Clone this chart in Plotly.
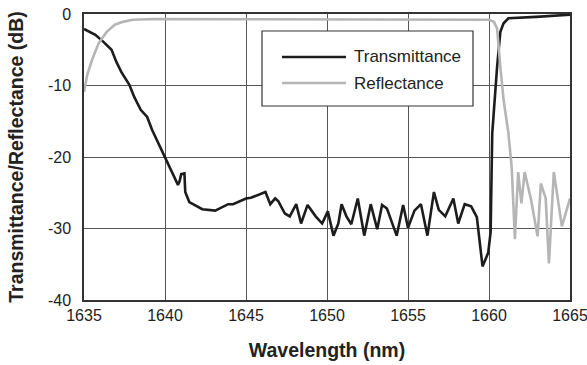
import plotly.graph_objects as go

# Transmittance (dB) vs wavelength (nm)
trans_wl = [1635.0, 1635.7, 1636.2, 1636.7, 1637.0, 1637.3, 1637.8, 1638.1, 1638.5, 1638.9,
            1639.2, 1639.6, 1640.0, 1640.4, 1640.8, 1640.9, 1641.0, 1641.2, 1641.25, 1641.5,
            1642.3, 1643.1, 1643.9, 1644.2, 1645.0, 1645.3, 1646.2, 1646.5, 1646.8, 1647.0,
            1647.4, 1647.7, 1648.1, 1648.4, 1648.8, 1649.3, 1649.7, 1650.05, 1650.4, 1650.7,
            1650.9, 1651.2, 1651.5, 1651.9, 1652.3, 1652.7, 1653.1, 1653.4, 1653.7, 1654.3,
            1654.7, 1655.0, 1655.4, 1655.8, 1656.2, 1656.6, 1656.9, 1657.3, 1657.8, 1658.1,
            1658.5, 1658.9, 1659.25, 1659.6, 1659.95, 1660.1, 1660.2, 1660.5, 1660.7, 1660.9,
            1661.2, 1662.9, 1665.0]
trans_db = [-2.1, -2.9, -3.9, -5.0, -6.7, -8.1, -9.9, -11.6, -13.4, -14.4,
            -16.2, -18.1, -20.0, -21.8, -23.9, -23.4, -22.4, -22.3, -24.9, -26.3,
            -27.3, -27.5, -26.6, -26.6, -25.8, -25.7, -24.9, -26.6, -25.8, -26.2,
            -27.9, -28.3, -26.6, -29.3, -26.7, -28.3, -29.3, -27.6, -31.0, -29.3,
            -26.6, -28.3, -29.4, -25.8, -31.0, -26.6, -30.1, -26.7, -27.2, -31.0,
            -26.7, -29.9, -27.5, -26.6, -31.0, -24.9, -27.4, -28.3, -25.8, -29.3,
            -26.6, -26.9, -28.4, -35.3, -33.4, -30.5, -16.7, -7.4, -2.5, -1.3,
            -0.6, -0.4, -0.1]

# Reflectance (dB) vs wavelength (nm)
refl_wl = [1635.0, 1635.2, 1635.5, 1635.9, 1636.4, 1636.9, 1637.4, 1638.0, 1639.3, 1645.0,
           1650.0, 1655.0, 1660.0, 1660.3, 1660.5, 1660.7, 1660.9, 1661.2, 1661.4, 1661.6,
           1661.8, 1662.0, 1662.2, 1662.6, 1663.0, 1663.2, 1663.5, 1663.7, 1664.0, 1664.5,
           1665.0]
refl_db = [-10.9, -8.5, -6.4, -4.1, -2.5, -1.5, -1.1, -0.8, -0.7, -0.7,
           -0.7, -0.7, -0.8, -1.1, -2.0, -7.4, -12.0, -16.7, -21.4, -31.5,
           -22.1, -26.5, -22.1, -26.0, -31.1, -23.7, -25.8, -34.9, -22.1, -29.7,
           -25.8]

x_ticks = [1635, 1640, 1645, 1650, 1655, 1660, 1665]
y_ticks = [0, -10, -20, -30, -40]
y_tick_text = ["0", "-10", "-20", "-30", "-40"]
series_names = ["Transmittance", "Reflectance"]
series_colors = ["#1c1c1c", "#b5b5b5"]

fig = go.Figure()
fig.add_trace(go.Scatter(x=trans_wl, y=trans_db, mode="lines", name=series_names[0],
                         line=dict(color=series_colors[0], width=2.6), showlegend=False))
fig.add_trace(go.Scatter(x=refl_wl, y=refl_db, mode="lines", name=series_names[1],
                         line=dict(color=series_colors[1], width=2.6), showlegend=False))

font_family = "Liberation Sans, Arial, sans-serif"
fig.update_layout(
    width=587, height=365,
    margin=dict(l=84, r=17, t=14, b=65),
    paper_bgcolor="white", plot_bgcolor="white",
    font=dict(family=font_family, color="#222222", size=16),
    xaxis=dict(range=[1635, 1665], tickvals=x_ticks, showgrid=True, gridcolor="#555555",
               gridwidth=1, showline=True, linecolor="#333333", linewidth=1.5, mirror=True,
               zeroline=False, ticks="", tickfont=dict(size=16), automargin=False,
               ticklabeloverflow="allow",
               title=dict(text="<b>Wavelength (nm)</b>", font=dict(size=19.5), standoff=20)),
    yaxis=dict(range=[-40, 0], tickvals=y_ticks, ticktext=y_tick_text, showgrid=True,
               gridcolor="#555555", gridwidth=1, showline=True, linecolor="#333333",
               linewidth=1.5, mirror=True, zeroline=False, ticks="", tickfont=dict(size=16),
               automargin=False, ticklabeloverflow="allow", ticklabelstandoff=8,
               title=dict(text="<b>Transmittance/Reflectance (dB)</b>", font=dict(size=19.5),
                          standoff=19)),
)

# Legend box drawn manually
def px_x(px):
    return (px - 84) / (570 - 84)

def px_y(py):
    return 1 - (py - 14) / (300 - 14)

fig.add_shape(type="rect", xref="paper", yref="paper", x0=px_x(262), x1=px_x(473),
              y0=px_y(106), y1=px_y(31), line=dict(color="#333333", width=1.2),
              fillcolor="white", layer="above")
for i, (nm, col, py) in enumerate(zip(series_names, series_colors, [57, 83])):
    fig.add_shape(type="line", xref="paper", yref="paper", x0=px_x(282), x1=px_x(346),
                  y0=px_y(py), y1=px_y(py), line=dict(color=col, width=2.6), layer="above")
    fig.add_annotation(xref="paper", yref="paper", x=px_x(352), y=px_y(py), text=nm,
                       showarrow=False, xanchor="left", yanchor="middle",
                       font=dict(size=17, color="#222222"))

fig.write_html("out.html")
